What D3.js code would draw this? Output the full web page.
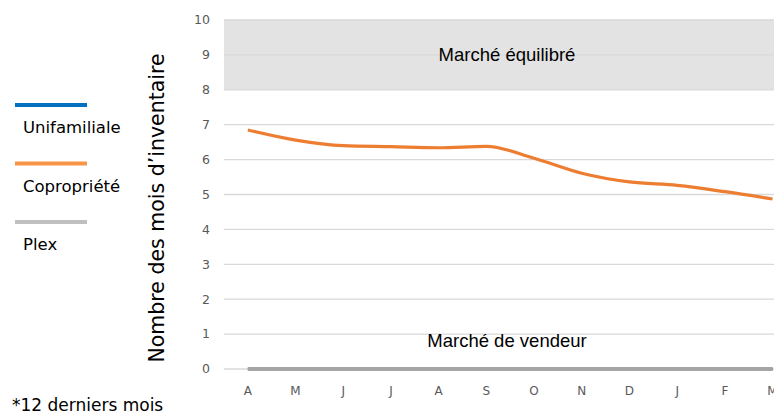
<!DOCTYPE html>
<html>
<head>
<meta charset="utf-8">
<script src="https://cdn.jsdelivr.net/npm/d3@7"></script>
<style>
  body { margin: 0; background: #fff; }
  svg { display: block; }
</style>
</head>
<body>
<div id="chart"></div>
<script>
const months = ["A", "M", "J", "J", "A", "S", "O", "N", "D", "J", "F", "M"];
const unifamiliale = [0, 0, 0, 0, 0, 0, 0, 0, 0, 0, 0, 0];
const copropriete = [6.85, 6.56, 6.40, 6.37, 6.34, 6.38, 6.04, 5.61, 5.36, 5.26, 5.08, 4.87];
const plex = [0, 0, 0, 0, 0, 0, 0, 0, 0, 0, 0, 0];
const yTicks = [0, 1, 2, 3, 4, 5, 6, 7, 8, 9, 10];
const bandRange = [8, 10];

const width = 774, height = 414;
const svg = d3.select("#chart").append("svg")
  .attr("width", width)
  .attr("height", height);

const x = d3.scaleBand()
  .domain(d3.range(months.length))
  .range([224, 796.4]);

const y = d3.scaleLinear()
  .domain([0, 10])
  .range([369, 20]);

const cx = i => x(i) + x.bandwidth() / 2;

// balanced-market band
svg.append("rect")
  .attr("x", 224)
  .attr("y", y(bandRange[1]))
  .attr("width", width - 224)
  .attr("height", y(bandRange[0]) - y(bandRange[1]))
  .attr("fill", "#e3e3e3");

// gridlines
svg.append("g")
  .selectAll("line")
  .data(yTicks)
  .join("line")
  .attr("x1", 224)
  .attr("x2", width)
  .attr("y1", d => y(d))
  .attr("y2", d => y(d))
  .attr("stroke", "#d9d9d9")
  .attr("stroke-width", 1.3);

// y tick labels
svg.append("g")
  .selectAll("text")
  .data(yTicks)
  .join("text")
  .attr("x", 210)
  .attr("y", d => y(d))
  .attr("dy", "0.35em")
  .attr("text-anchor", "end")
  .attr("font-family", "DejaVu Sans, sans-serif")
  .attr("font-size", 12.5)
  .attr("fill", "#595959")
  .text(d => d);

// x labels
svg.append("g")
  .selectAll("text")
  .data(months)
  .join("text")
  .attr("x", (d, i) => cx(i))
  .attr("y", 395)
  .attr("text-anchor", "middle")
  .attr("font-family", "DejaVu Sans, sans-serif")
  .attr("font-size", 12)
  .attr("fill", "#595959")
  .text(d => d);

// y axis title
svg.append("text")
  .attr("transform", "translate(164,208) rotate(-90)")
  .attr("text-anchor", "middle")
  .attr("font-family", "DejaVu Sans, sans-serif")
  .attr("font-size", 20.5)
  .attr("fill", "#000")
  .text("Nombre des mois d\u2019inventaire");

// zone labels
svg.append("text")
  .attr("x", 507)
  .attr("y", 61)
  .attr("text-anchor", "middle")
  .attr("font-family", "Liberation Sans, Arial, sans-serif")
  .attr("font-size", 18.5)
  .attr("fill", "#000")
  .text("Marché équilibré");

svg.append("text")
  .attr("x", 507)
  .attr("y", 347)
  .attr("text-anchor", "middle")
  .attr("font-family", "Liberation Sans, Arial, sans-serif")
  .attr("font-size", 18.5)
  .attr("fill", "#000")
  .text("Marché de vendeur");

// lines
const line = d3.line()
  .x((d, i) => cx(i))
  .y(d => y(d))
  .curve(d3.curveMonotoneX);

const series = [
  { name: "Unifamiliale", values: unifamiliale, color: "#0070c0", legend: "#0070c0", w: 3 },
  { name: "Copropriété", values: copropriete, color: "#ed7d31", legend: "#f79646", w: 3.2 },
  { name: "Plex", values: plex, color: "#a5a5a5", legend: "#bfbfbf", w: 4 }
];

svg.append("g")
  .selectAll("path")
  .data(series)
  .join("path")
  .attr("fill", "none")
  .attr("stroke", d => d.color)
  .attr("stroke-width", d => d.w)
  .attr("stroke-linejoin", "round")
  .attr("d", d => line(d.values));

// legend
const legend = svg.append("g")
  .selectAll("g")
  .data(series)
  .join("g")
  .attr("transform", (d, i) => `translate(15,${105 + i * 58.5})`);

legend.append("line")
  .attr("x1", 0)
  .attr("x2", 72)
  .attr("stroke", d => d.legend)
  .attr("stroke-width", 4);

legend.append("text")
  .attr("x", 8)
  .attr("y", 28)
  .attr("font-family", "DejaVu Sans, sans-serif")
  .attr("font-size", 16.5)
  .attr("fill", "#000")
  .text(d => d.name);

// footnote
svg.append("text")
  .attr("x", 12)
  .attr("y", 411)
  .attr("font-family", "DejaVu Sans, sans-serif")
  .attr("font-size", 17)
  .attr("fill", "#000")
  .text("*12 derniers mois");
</script>
</body>
</html>
